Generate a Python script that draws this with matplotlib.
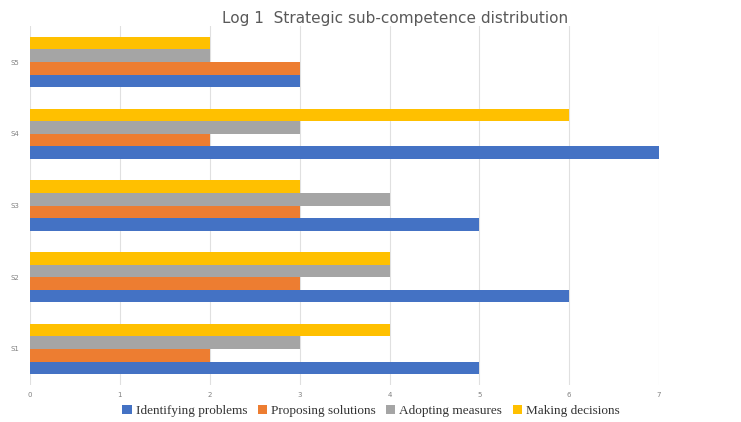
import matplotlib.pyplot as plt
import numpy as np

categories = ["S1", "S2", "S3", "S4", "S5"]
identifying = [5, 6, 5, 7, 3]
proposing = [2, 3, 3, 2, 3]
adopting = [3, 4, 4, 3, 2]
making = [4, 4, 3, 6, 2]
series_names = ["Identifying problems", "Proposing solutions", "Adopting measures", "Making decisions"]
colors = ["#4472C4", "#ED7D31", "#A5A5A5", "#FFC000"]

fig = plt.figure(figsize=(7.41, 4.22), dpi=100)
ax = fig.add_axes([0.0405, 0.088, 0.849, 0.85])

y = np.arange(len(categories))
h = 0.175
for i, (vals, name, c) in enumerate(zip([identifying, proposing, adopting, making], series_names, colors)):
    ax.barh(y + (i - 1.5) * h, vals, height=h, color=c, label=name, zorder=2)

ax.set_xlim(0, 7)
ax.set_ylim(-0.5, 4.5)
ax.set_xticks(range(8))
ax.set_yticks(y)
ax.set_yticklabels(categories)
ax.grid(axis="x", color="#E0E0E0", linewidth=0.8, zorder=0)
ax.tick_params(axis="x", length=0, labelsize=5, labelcolor="#808080", pad=5)
ax.tick_params(axis="y", length=0, labelsize=5, labelcolor="#808080", pad=8)
for s in ax.spines.values():
    s.set_visible(False)

fig.text(395 / 741, 1 - 18 / 422, "Log 1  Strategic sub-competence distribution",
         fontsize=11, color="#595959", ha="center", va="center")

leg = fig.legend(loc="center", bbox_to_anchor=(371 / 741, 1 - 411 / 422), ncol=4, frameon=False,
                 handlelength=0.7, handleheight=0.7, handletextpad=0.3, columnspacing=0.8,
                 borderpad=0, prop={"family": "Liberation Serif", "size": 9.5})
for t in leg.get_texts():
    t.set_color("#333333")

fig.savefig("out.png", dpi=100)
